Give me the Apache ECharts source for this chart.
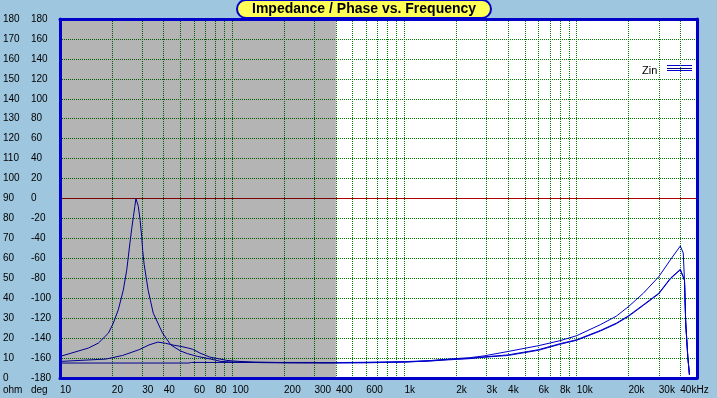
<!DOCTYPE html>
<html>
<head>
<meta charset="utf-8">
<script src="https://cdn.jsdelivr.net/npm/echarts@6.0.0/dist/echarts.min.js"></script>
<style>
html,body{margin:0;padding:0;background:#9EC6DF;}
#chart{width:717px;height:398px;}
</style>
</head>
<body>
<div id="chart"></div>
<script>
// ---- data (frequency in Hz, impedance in ohm) ----
const freqA = [10, 12.2, 14.6, 16.7, 19.1, 20.4, 21.8, 23.3, 24.4, 25.5, 26.1, 26.7, 27.2, 27.6, 28.1, 28.5, 29.2, 29.8, 30.2, 30.8, 32.5, 34.8, 39.4, 44, 50, 55, 63, 75, 86, 100, 150, 200, 300, 400, 600, 1000, 1400, 1800, 2400, 2900, 4000, 6000, 8000, 10000, 13700, 17000, 20000, 24400, 30000, 35000, 40000, 41600, 42300, 43000, 44200, 45200];
const zA    = [10.8, 13, 15, 17.5, 22.5, 27.5, 34.2, 44, 54, 68, 75, 81, 86, 90, 89.5, 86, 79, 71, 64, 57, 44, 32.5, 22.5, 16.6, 13.6, 12.2, 10.8, 9.5, 8.3, 8, 7.7, 7.6, 7.6, 7.7, 7.8, 8.2, 8.7, 9.5, 10.2, 11.1, 13.3, 16.2, 18.7, 21.2, 26.7, 31, 35.8, 42.5, 50.8, 59.2, 66.2, 62.7, 49, 27.6, 10.8, 1.6];

const freqB = [10, 18.5, 23.1, 28.8, 32.9, 37, 41, 46, 50, 55, 59, 65, 74, 85, 93, 111, 133, 200, 300, 400, 600, 1000, 1400, 1800, 2400, 2900, 4000, 6000, 8000, 10000, 13700, 17000, 20000, 24400, 30000, 35000, 40000, 41600, 42300, 43000, 44200, 45200];
const zB    = [8.3, 9.5, 11.3, 14.2, 16.6, 18, 17.4, 16.4, 15.9, 15.1, 14.4, 12.5, 10.5, 9.5, 8.8, 8.3, 8, 7.7, 7.6, 7.5, 7.6, 8.0, 8.6, 9.3, 9.9, 10.6, 11.6, 14.2, 17.2, 19.2, 23.8, 27.5, 31.2, 36.7, 42.5, 50, 54.5, 50.8, 49, 27.6, 10.8, 1.6];

const freqC = [10, 56, 58, 300, 320, 1000, 1400, 1800, 2400, 2900, 4000, 6000, 8000, 10000, 13700, 17000, 20000, 24400, 30000, 35000, 40000, 41600, 42300, 43000, 44200, 45200];
const zC    = [7.5, 7.5, 7.8, 7.8, 7.7, 8.0, 8.5, 9.1, 9.7, 10.4, 11.3, 13.9, 16.9, 18.9, 23.5, 27.2, 30.9, 36.4, 42.2, 49.7, 54.2, 50.5, 49, 27.6, 10.8, 1.6];

// ---- axes ----
const gridFreqs  = [20,30,40,50,60,70,80,90,100,200,300,400,500,600,700,800,900,1000,2000,3000,4000,5000,6000,7000,8000,9000,10000,20000,30000,40000];
const tickFreqs  = [10,20,30,40,60,80,100,200,300,400,600,1000,2000,3000,4000,6000,8000,10000,20000,30000,40000];
const tickLabels = ['10','20','30','40','60','80','100','200','300','400','600','1k','2k','3k','4k','6k','8k','10k','20k','30k','40kHz'];
const freqRange  = [10, 50000];
const ohmRange   = [0, 180];
const ohmStep    = 10;
const degRange   = [-180, 180];
const degStep    = 20;
const shadedBand = [10, 400];
const refOhm     = 90;
const titleText  = 'Impedance / Phase vs. Frequency';
const legendName = 'Zin';

const FONT  = '"Liberation Sans", Arial, sans-serif';
const BLUE  = '#0000CC';
const NAVY  = '#000080';
const FRAME = '#0000C8';
const GRIDC = '#008000';

const pairs = (f, z) => f.map((v, i) => [v, z[i]]);
const frameLine = { show: true, onZero: false, lineStyle: { color: FRAME, width: 3 } };

const chart = echarts.init(document.getElementById('chart'), null, { renderer: 'canvas' });

const curve = (name, f, z) => ({
  name, type: 'line', xAxisIndex: 0, yAxisIndex: 0, z: 2,
  data: pairs(f, z), symbol: 'none', showSymbol: false, smooth: false,
  lineStyle: { color: BLUE, width: 1 }, silent: true, animation: false
});

const seriesA = curve('A', freqA, zA);
seriesA.markLine = {
  z: 1, silent: true, symbol: ['none', 'none'], animation: false,
  label: { show: false },
  lineStyle: { color: GRIDC, type: 'dotted', width: 1 },
  data: gridFreqs.map(f => ({ xAxis: f })).concat([
    { yAxis: refOhm, lineStyle: { color: '#B00000', type: 'solid', width: 1 } }
  ])
};
seriesA.markArea = {
  z: 3, silent: true, animation: false,
  itemStyle: { color: 'rgba(0,0,0,0.294)' },
  data: [[{ xAxis: shadedBand[0] }, { xAxis: shadedBand[1] }]]
};

const yLabel = (margin) => ({
  align: 'left', margin, color: '#000', fontSize: 10, fontFamily: FONT,
  padding: [0, 0, 6, 0], showMinLabel: true, showMaxLabel: true, hideOverlap: false
});

const option = {
  backgroundColor: '#9EC6DF',
  animation: false,
  textStyle: { fontFamily: FONT },
  title: {
    text: titleText, left: 237, top: 0,
    padding: [1, 15, 1, 15],
    backgroundColor: '#FFFF55', borderColor: FRAME, borderWidth: 2, borderRadius: 10,
    textStyle: { fontFamily: FONT, fontSize: 14, fontWeight: 'bold', color: '#000', lineHeight: 16 }
  },
  grid: { left: 60, right: 20, top: 19, bottom: 20, show: true, backgroundColor: '#FFFFFF', borderWidth: 0, containLabel: false, outerBoundsMode: 'none' },
  xAxis: [
    {
      type: 'log', logBase: 10, min: freqRange[0], max: freqRange[1], position: 'bottom', z: 10,
      axisLine: frameLine, axisTick: { show: false }, splitLine: { show: false },
      axisLabel: {
        customValues: tickFreqs,
        formatter: v => { const i = tickFreqs.indexOf(Math.round(v)); return i >= 0 ? tickLabels[i] : ''; },
        align: 'left', margin: 7, color: '#000', fontSize: 10, fontFamily: FONT,
        hideOverlap: false, showMinLabel: true, showMaxLabel: true
      }
    },
    {
      type: 'log', logBase: 10, min: freqRange[0], max: freqRange[1], position: 'top', z: 10,
      axisLine: frameLine, axisTick: { show: false }, axisLabel: { show: false }, splitLine: { show: false }
    }
  ],
  yAxis: [
    {
      type: 'value', min: ohmRange[0], max: ohmRange[1], interval: ohmStep, position: 'left', z: 10,
      axisLine: frameLine, axisTick: { show: false }, splitLine: { show: false },
      axisLabel: yLabel(57)
    },
    {
      type: 'value', min: degRange[0], max: degRange[1], interval: degStep, position: 'left', z: 0,
      axisLine: { show: false, onZero: false }, axisTick: { show: false },
      splitLine: { show: true, lineStyle: { color: GRIDC, type: 'dotted', width: 1 } },
      axisLabel: yLabel(29)
    },
    {
      type: 'value', min: ohmRange[0], max: ohmRange[1], interval: ohmStep, position: 'right', z: 10,
      axisLine: frameLine, axisTick: { show: false }, axisLabel: { show: false }, splitLine: { show: false }
    }
  ],
  series: [
    seriesA,
    curve('B', freqB, zB),
    curve('C', freqC, zC)
  ],
  graphic: [
    { type: 'text', x: 3, y: 390, silent: true, style: { text: 'ohm', fill: '#000', font: '10px ' + FONT, verticalAlign: 'middle' } },
    { type: 'text', x: 31, y: 390, silent: true, style: { text: 'deg', fill: '#000', font: '10px ' + FONT, verticalAlign: 'middle' } },
    { type: 'text', x: 642, y: 70.5, silent: true, style: { text: legendName, fill: '#000', font: '11px ' + FONT, verticalAlign: 'middle' } },
    { type: 'line', silent: true, shape: { x1: 667, y1: 65.5, x2: 692, y2: 65.5 }, style: { stroke: BLUE, lineWidth: 1 } },
    { type: 'line', silent: true, shape: { x1: 667, y1: 68.5, x2: 692, y2: 68.5 }, style: { stroke: NAVY, lineWidth: 1 } },
    { type: 'line', silent: true, shape: { x1: 667, y1: 70.5, x2: 692, y2: 70.5 }, style: { stroke: BLUE, lineWidth: 1 } }
  ]
};

chart.setOption(option);
</script>
</body>
</html>
